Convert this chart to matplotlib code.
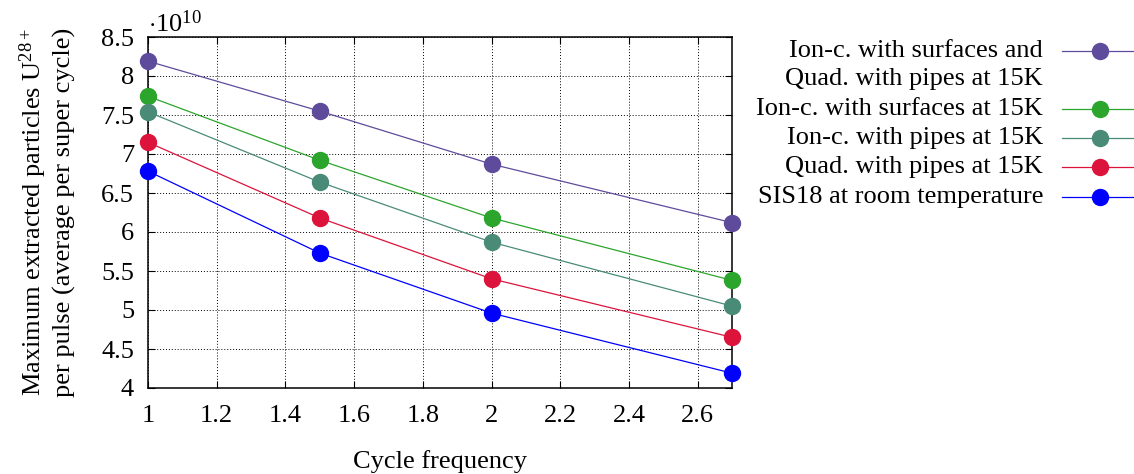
import matplotlib.pyplot as plt
from matplotlib.lines import Line2D

plt.rcParams['font.family'] = ['Liberation Serif', 'DejaVu Serif']
plt.rcParams['mathtext.fontset'] = 'custom'
plt.rcParams['mathtext.rm'] = 'Liberation Serif'
plt.rcParams['mathtext.it'] = 'Liberation Serif:italic'

freq = [1, 1.5, 2, 2.7]

both_15k = [8.19, 7.55, 6.87, 6.12]
surf_15k = [7.74, 6.92, 6.18, 5.38]
pipes_15k = [7.54, 6.64, 5.87, 5.05]
quad_15k = [7.15, 6.18, 5.40, 4.65]
room_temp = [6.78, 5.73, 4.96, 4.19]

labels = ["Ion-c. with surfaces and\nQuad. with pipes at 15K",
          "Ion-c. with surfaces at 15K",
          "Ion-c. with pipes at 15K",
          "Quad. with pipes at 15K",
          "SIS18 at room temperature"]
colors = ['#5f4b9b', '#2ca52c', '#4a8b78', '#dc143c', '#0000ff']
series = [both_15k, surf_15k, pipes_15k, quad_15k, room_temp]

fs = 19

fig = plt.figure(figsize=(11.34, 4.74), dpi=100)
ax = fig.add_axes([148/1134, 1-388/474, (732-148)/1134, (388-37)/474])

for vals, c in zip(series, colors):
    ax.plot(freq, vals, color=c, lw=0.9, marker='o', ms=11.5, mec=c, clip_on=False, zorder=3)

ax.set_xlim(1, 2.7)
ax.set_ylim(4, 8.5)
ax.set_xticks([1, 1.2, 1.4, 1.6, 1.8, 2, 2.2, 2.4, 2.6])
ax.set_xticklabels(['1', '1.2', '1.4', '1.6', '1.8', '2', '2.2', '2.4', '2.6'])
ax.set_yticks([4, 4.5, 5, 5.5, 6, 6.5, 7, 7.5, 8, 8.5])
ax.set_yticklabels(['4', '4.5', '5', '5.5', '6', '6.5', '7', '7.5', '8', '8.5'])
ax.grid(True, color='black', ls=(0, (1, 2)), lw=0.7)
ax.tick_params(direction='in', top=True, right=True, length=5, width=0.8, labelsize=fs)
ax.tick_params(axis='x', pad=12)
ax.tick_params(axis='y', pad=10)
for s in ax.spines.values():
    s.set_linewidth(1.1)

ax.set_xlabel('Cycle frequency', fontsize=fs, labelpad=17)
ax.set_ylabel('Maximum extracted particles U$^{28+}$\nper pulse (average per super cycle)',
              fontsize=fs, labelpad=18, linespacing=1.2)
ax.text(0.0, 1.0, r'$\cdot$10$^{10}$', transform=ax.transAxes, fontsize=fs, va='bottom', ha='left')

# legend drawn by hand: text right aligned, line + marker on the right
leg_y = [51, 109, 138, 167, 197]
for lab, c, yp in zip(labels, colors, leg_y):
    yf = 1 - yp/474
    if '\n' in lab:
        fig.text(1043/1134, 1 - 65/474, lab, fontsize=fs, ha='right', va='center', ma='right',
                 linespacing=1.3)
    else:
        fig.text(1043/1134, yf, lab, fontsize=fs, ha='right', va='center')
    fig.add_artist(Line2D([1062/1134, 1.0], [yf, yf], color=c, lw=0.9, transform=fig.transFigure))
    fig.add_artist(Line2D([1100/1134], [yf], color=c, marker='o', ms=11.5, mec=c, transform=fig.transFigure))

fig.savefig('out.png', dpi=100)
